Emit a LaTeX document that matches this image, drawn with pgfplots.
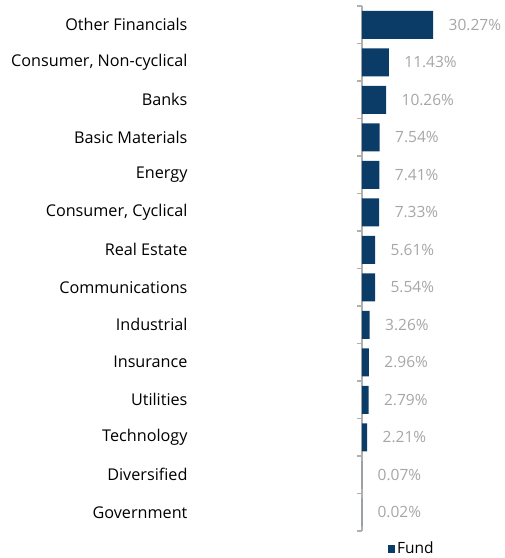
\documentclass[border=0pt]{standalone}
\usepackage{pgfplots}
\pgfplotsset{compat=1.18}
\usepackage{fontspec}
\setmainfont{Open Sans}
\definecolor{fundblue}{HTML}{0B3C68}
\definecolor{valgray}{HTML}{A6A6A6}
\definecolor{axgray}{HTML}{B0B0B0}
\begin{document}
\begin{tikzpicture}
\begin{axis}[
    xbar,
    scale only axis,
    width=118pt, height=525pt,
    xmin=0, xmax=50.2,
    ymin=-0.5, ymax=13.5,
    y dir=reverse,
    axis lines*=left,
    x axis line style={draw=none},
    xtick=\empty,
    y axis line style={axgray, line width=1.2pt},
    ytick={0,...,13},
    yticklabels={Other Financials, {Consumer, Non-cyclical}, Banks, Basic Materials, Energy, {Consumer, Cyclical}, Real Estate, Communications, Industrial, Insurance, Utilities, Technology, Diversified, Government},
    major tick length=0pt,
    yticklabel style={font=\fontsize{16.2}{18}\selectfont, text=black, anchor=east, xshift=-171pt},
    bar width=28pt,
    clip=false,
    nodes near coords={\pgfmathprintnumber[fixed,precision=2,fixed zerofill]{\pgfplotspointmeta}\%},
    nodes near coords style={font=\fontsize{15.5}{17}\selectfont, text=valgray, anchor=west, xshift=12pt},
    /pgf/number format/assume math mode=true,
    legend style={at={(axis description cs:0.42,0)}, anchor=north, draw=none, yshift=-9pt, font=\fontsize{15.5}{17}\selectfont, inner sep=0pt},
]
\addplot[fill=fundblue, draw=none, legend image code/.code={\fill[fundblue] (0pt,-3.8pt) rectangle (7.5pt,3.8pt);}] coordinates {
    (30.27,0) (11.43,1) (10.26,2) (7.54,3) (7.41,4) (7.33,5) (5.61,6)
    (5.54,7) (3.26,8) (2.96,9) (2.79,10) (2.21,11) (0.07,12) (0.02,13)
};
\legend{Fund}
\pgfplotsinvokeforeach{-0.5,0.5,...,13.5}{
    \draw[axgray, line width=1.2pt] (axis cs:0,#1) -- ([xshift=-5pt]axis cs:0,#1);
}
\end{axis}
\path ([xshift=-362pt, yshift=6pt]current axis.north west) rectangle ([xshift=140pt, yshift=-27pt]current axis.south west);
\end{tikzpicture}
\end{document}
